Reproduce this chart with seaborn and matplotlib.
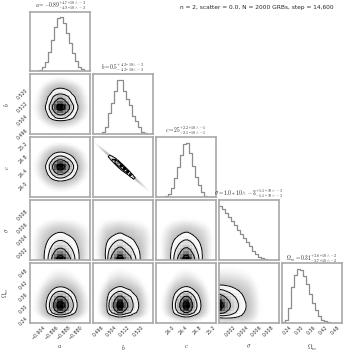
import numpy as np
import pandas as pd
import matplotlib
matplotlib.use("Agg")
import matplotlib.pyplot as plt
from matplotlib.colors import LinearSegmentedColormap
import seaborn as sns

# ---------------- data ----------------
param_labels = [r"$a$", r"$b$", r"$c$", r"$\sigma$", r"$\Omega_m$"]
param_ranges = [(-0.9098, -0.8709), (0.4930, 0.5290), (23.58, 25.35),
                (0.0002, 0.0096), (0.215, 0.510)]

a_counts = [2, 4, 10, 28, 75, 180, 350, 580, 820, 980, 1000, 890, 700, 520, 340, 190, 90, 35, 12, 4]
b_counts = [1, 3, 12, 45, 130, 400, 580, 790, 990, 1000, 800, 640, 530, 330, 240, 130, 50, 15, 5, 1]
c_counts = [1, 2, 6, 20, 60, 160, 360, 560, 780, 970, 1000, 820, 580, 380, 220, 90, 30, 8, 2, 1]
sigma_counts = [1000, 940, 860, 790, 710, 640, 560, 480, 400, 340, 250, 170, 110, 60, 30, 15, 10, 5, 3, 2]
om_counts = [10, 50, 270, 660, 880, 1000, 980, 870, 720, 540, 360, 230, 120, 60, 30, 15, 8, 4, 2, 1]

rho_bc = -0.995            # correlation between b and c
sigma_widening = 0.6       # spread of the other parameters grows with sigma
sigma_2d_sharpness = 1.9   # joint density falls off faster along sigma than its marginal

a_ticks = [-0.904, -0.896, -0.888, -0.880]
b_ticks = [0.496, 0.504, 0.512, 0.520]
c_ticks = [24.0, 24.4, 24.8, 25.2]
sigma_ticks = [0.002, 0.004, 0.006, 0.008]
om_ticks = [0.24, 0.30, 0.36, 0.42, 0.48]

a_tick_labels = ["\u22120.904", "\u22120.896", "\u22120.888", "\u22120.880"]
b_tick_labels = ["0.496", "0.504", "0.512", "0.520"]
c_tick_labels = ["24.0", "24.4", "24.8", "25.2"]
sigma_tick_labels = ["0.002", "0.004", "0.006", "0.008"]
om_tick_labels = ["0.24", "0.30", "0.36", "0.42", "0.48"]

titles = [
    r"$a = -0.89^{+4.7*10\wedge-3}_{-4.9*10\wedge-3}$",
    r"$b = 0.5^{+4.2*10\wedge-3}_{-4.2*10\wedge-3}$",
    r"$c = 25^{+2.2*10\wedge-1}_{-2.1*10\wedge-1}$",
    r"$\sigma = 1.0*10\wedge-3^{+1.1*10\wedge-3}_{-1.1*10\wedge-3}$",
    r"$\Omega_m = 0.31^{+3.6*10\wedge-2}_{-3.7*10\wedge-2}$",
]
suptitle = "n = 2, scatter = 0.0, N = 2000 GRBs, step = 14,600"

counts = [a_counts, b_counts, c_counts, sigma_counts, om_counts]
ticks = [a_ticks, b_ticks, c_ticks, sigma_ticks, om_ticks]
tick_labels = [a_tick_labels, b_tick_labels, c_tick_labels, sigma_tick_labels, om_tick_labels]
SIG = 3

# ---------------- style ----------------
sns.set_style("white")
plt.rcParams["mathtext.fontset"] = "cm"
plt.rcParams["font.family"] = ["DejaVu Sans"]

FRAME = "#a8a8a8"
HISTC = "#8c8c8c"
density_cmap = LinearSegmentedColormap.from_list("dens", [(0, 0, 0, 1), (1, 1, 1, 0)])
halo_cmap = LinearSegmentedColormap.from_list("halo", ["#ffffff", "#b8b8b8"])


def edges_of(k):
    lo, hi = param_ranges[k]
    return np.linspace(lo, hi, len(counts[k]) + 1)


def centers_of(k):
    e = edges_of(k)
    return 0.5 * (e[1:] + e[:-1])


def moments(k):
    c = centers_of(k)
    w = np.asarray(counts[k], float)
    m = np.sum(c * w) / w.sum()
    s = np.sqrt(np.sum(w * (c - m) ** 2) / w.sum())
    return m, s


def halo_t(h):
    h = np.clip(h, 1e-12, None)
    t = np.clip((np.log(h) - np.log(2e-3)) / (np.log(0.135) - np.log(2e-3)), 0, 1)
    return t ** 1.4


def corner_levels(H):
    levels = 1.0 - np.exp(-0.5 * np.arange(0.5, 2.1, 0.5) ** 2)
    Hflat = H.flatten()
    inds = np.argsort(Hflat)[::-1]
    Hflat = Hflat[inds]
    sm = np.cumsum(Hflat)
    sm /= sm[-1]
    V = np.empty(len(levels))
    for i, v0 in enumerate(levels):
        sel = Hflat[sm <= v0]
        V[i] = sel[-1] if len(sel) else Hflat[0]
    V.sort()
    m = np.diff(V) == 0
    while np.any(m):
        V[np.where(m)[0][0]] *= 1.0 - 1e-4
        m = np.diff(V) == 0
    V.sort()
    return V


def extend(H, X1, Y1):
    H2 = H.min() + np.zeros((H.shape[0] + 4, H.shape[1] + 4))
    H2[2:-2, 2:-2] = H
    H2[2:-2, 1] = H[:, 0]
    H2[2:-2, -2] = H[:, -1]
    H2[1, 2:-2] = H[0]
    H2[-2, 2:-2] = H[-1]
    H2[1, 1] = H[0, 0]
    H2[1, -2] = H[0, -1]
    H2[-2, 1] = H[-1, 0]
    H2[-2, -2] = H[-1, -1]
    dx0, dx1 = X1[1] - X1[0], X1[-1] - X1[-2]
    dy0, dy1 = Y1[1] - Y1[0], Y1[-1] - Y1[-2]
    X2 = np.concatenate([X1[0] + np.array([-2, -1]) * dx0, X1, X1[-1] + np.array([1, 2]) * dx1])
    Y2 = np.concatenate([Y1[0] + np.array([-2, -1]) * dy0, Y1, Y1[-1] + np.array([1, 2]) * dy1])
    return H2, X2, Y2


def sigma_joint(k_other):
    """rows: sigma bins, cols: other-parameter bins"""
    fs = np.asarray(counts[SIG], float)
    fs = (fs / fs.max()) ** sigma_2d_sharpness
    c = centers_of(k_other)
    cnt = np.asarray(counts[k_other], float)
    m, _ = moments(k_other)
    u = np.linspace(0, 1, len(fs) + 1)
    u = 0.5 * (u[1:] + u[:-1])
    J = np.empty((len(fs), len(c)))
    for k in range(len(fs)):
        w = 1.0 + sigma_widening * u[k]
        J[k] = fs[k] * np.interp(m + (c - m) / w, c, cnt, left=0, right=0) / w
    return J


def draw_2d(ax, kx, ky):
    xe, ye = edges_of(kx), edges_of(ky)
    xc, yc = centers_of(kx), centers_of(ky)
    nx, ny = len(xc), len(yc)
    ext = (xe[0], xe[-1], ye[0], ye[-1])
    if {kx, ky} == {1, 2}:
        sub = 10
        xf = np.linspace(xe[0], xe[-1], nx * sub + 1)
        yf = np.linspace(ye[0], ye[-1], ny * sub + 1)
        xfc, yfc = 0.5 * (xf[1:] + xf[:-1]), 0.5 * (yf[1:] + yf[:-1])
        mx, sx = moments(kx)
        my, sy = moments(ky)
        zx = (xfc[:, None] - mx) / sx
        zy = (yfc[None, :] - my) / sy
        Q = (zx ** 2 - 2 * rho_bc * zx * zy + zy ** 2) / (1 - rho_bc ** 2)
        G = np.exp(-0.5 * Q)
        H = G.reshape(nx, sub, ny, sub).sum(axis=(1, 3))
        halo = halo_t(G / G.max())
    else:
        if ky == SIG:
            H = sigma_joint(kx).T
        elif kx == SIG:
            H = sigma_joint(ky)
        else:
            H = np.outer(np.asarray(counts[kx], float), np.asarray(counts[ky], float))
        halo = halo_t(H / H.max())
    ax.imshow(halo.T, origin="lower", extent=ext, aspect="auto",
              cmap=halo_cmap, vmin=0, vmax=1, interpolation="bilinear", zorder=0)
    V = corner_levels(H)
    H2, X2, Y2 = extend(H, xc, yc)
    ax.contourf(X2, Y2, H2.T, [V.min(), H.max() * 1.0001], colors=["white"],
                antialiased=False, zorder=1)
    ax.pcolormesh(xe, ye, (H.max() - H).T, cmap=density_cmap, shading="flat", zorder=2)
    ax.contour(X2, Y2, H2.T, V, colors="k", linewidths=0.7, zorder=3)
    ax.set_xlim(xe[0], xe[-1])
    ax.set_ylim(ye[0], ye[-1])


n = 5
fig, axes = plt.subplots(n, n, figsize=(3.54, 3.54), dpi=100)
fig.subplots_adjust(left=0.0847, right=0.966, bottom=0.0876, top=0.9675,
                    wspace=0.05, hspace=0.05)

for i in range(n):
    for j in range(n):
        ax = axes[i, j]
        if j > i:
            ax.set_axis_off()
            continue
        if i == j:
            e = edges_of(j)
            df = pd.DataFrame({"x": centers_of(j), "w": counts[j]})
            sns.histplot(data=df, x="x", weights="w", bins=list(e), element="step",
                         fill=False, color=HISTC, linewidth=0.9, ax=ax)
            ax.set_xlim(e[0], e[-1])
            ax.set_ylim(0, 1.1 * max(counts[j]))
            ax.set_yticks([])
            ax.set_ylabel("")
            ax.set_xlabel("")
            ax.set_title(titles[j], fontsize=4.0, pad=1.2)
        else:
            draw_2d(ax, j, i)
            ax.set_yticks(ticks[i])
            if j == 0:
                ax.set_yticklabels(tick_labels[i], rotation=45)
                ax.set_ylabel(param_labels[i], fontsize=4.5)
                ax.yaxis.set_label_coords(-0.31, 0.5)
            else:
                ax.set_yticklabels([])
        ax.set_xticks(ticks[j])
        if i == n - 1:
            ax.set_xticklabels(tick_labels[j], rotation=45)
            ax.set_xlabel(param_labels[j], fontsize=4.5)
            ax.xaxis.set_label_coords(0.5, -0.33)
        else:
            ax.set_xticklabels([])
        for sp in ax.spines.values():
            sp.set_color(FRAME)
            sp.set_linewidth(1.2)
            sp.set_zorder(5)
        ax.tick_params(direction="in", length=2, width=0.5, color="#555555",
                       labelsize=3.4, labelcolor="#333333", pad=1)

fig.text(0.725, 0.979, suptitle, ha="center", va="center", fontsize=4.2)

fig.savefig("out.png", dpi=100)
